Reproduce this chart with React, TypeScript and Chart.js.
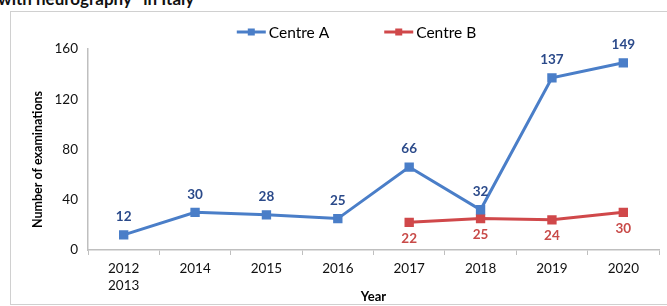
import React, { useEffect, useRef } from "react";
import { Chart, registerables } from "chart.js";

Chart.register(...registerables);

const categories: (string | string[])[] = [["2012", "2013"], "2014", "2015", "2016", "2017", "2018", "2019", "2020"];
const centreA: (number | null)[] = [12, 30, 28, 25, 66, 32, 137, 149];
const centreB: (number | null)[] = [null, null, null, null, 22, 25, 24, 30];
const seriesNames = ["Centre A", "Centre B"];
const yMin = 0;
const yMax = 160;
const yStep = 40;
const xTitle = "Year";
const yTitle = "Number of examinations";
const chartTitle = "with neurography* in Italy";

const BLUE = "#4A7EC8";
const RED = "#D0484A";
const BLUE_LABEL = "#2B4A8A";
const RED_LABEL = "#C84A48";
const AXIS = "#BFBFBF";
const FONT = "Lato, 'Open Sans', sans-serif";

const W = 667;
const H = 306;

const dataLabelPlugin = {
  id: "dataLabels",
  afterDatasetsDraw(chart: any) {
    const ctx = chart.ctx;
    ctx.save();
    ctx.font = `bold 13.5px ${FONT}`;
    ctx.textAlign = "center";
    ctx.textBaseline = "middle";
    chart.data.datasets.forEach((ds: any, i: number) => {
      const meta = chart.getDatasetMeta(i);
      meta.data.forEach((pt: any, j: number) => {
        const v = ds.data[j];
        if (v === null || v === undefined) return;
        ctx.fillStyle = ds.labelColor;
        const dy = ds.labelPos === "above" ? -18 : 16;
        ctx.fillText(String(v), pt.x, pt.y + dy);
      });
    });
    ctx.restore();
  },
};

const yTitlePlugin = {
  id: "yTitle",
  afterDraw(chart: any) {
    const ctx = chart.ctx;
    const a = chart.chartArea;
    ctx.save();
    ctx.font = `bold 12.5px ${FONT}`;
    ctx.fillStyle = "#000";
    ctx.textAlign = "center";
    ctx.textBaseline = "middle";
    ctx.translate(38, (a.top + a.bottom) / 2 + 10);
    ctx.rotate(-Math.PI / 2);
    ctx.fillText(yTitle, 0, 0);
    ctx.restore();
  },
};

const legendPlugin = {
  id: "customLegend",
  afterDraw(chart: any) {
    const ctx = chart.ctx;
    ctx.save();
    ctx.font = `15.5px ${FONT}`;
    ctx.textBaseline = "middle";
    ctx.textAlign = "left";
    const y = 32;
    const lineLen = 29;
    const gap = 3;
    const itemGap = 55;
    const widths = chart.data.datasets.map((ds: any) => lineLen + gap + ctx.measureText(ds.label).width);
    const total = widths.reduce((a: number, b: number) => a + b, 0) + itemGap * (widths.length - 1);
    let x = (chart.chartArea.left + chart.chartArea.right) / 2 - 17 - total / 2;
    chart.data.datasets.forEach((ds: any, i: number) => {
      ctx.strokeStyle = ds.borderColor;
      ctx.lineWidth = 3;
      ctx.beginPath();
      ctx.moveTo(x, y);
      ctx.lineTo(x + lineLen, y);
      ctx.stroke();
      ctx.fillStyle = ds.backgroundColor;
      ctx.fillRect(x + lineLen / 2 - 3.5, y - 3.5, 7, 7);
      ctx.fillStyle = "#000";
      ctx.fillText(ds.label, x + lineLen + gap, y + 1);
      x += widths[i] + itemGap;
    });
    ctx.restore();
  },
};

export default function App() {
  const ref = useRef<HTMLCanvasElement | null>(null);

  useEffect(() => {
    if (!ref.current) return;
    const chart = new Chart(ref.current, {
      type: "line",
      data: {
        labels: categories,
        datasets: [
          {
            label: seriesNames[0],
            data: centreA,
            borderColor: BLUE,
            backgroundColor: BLUE,
            borderWidth: 3,
            pointStyle: "rect",
            pointRadius: 4.5,
            pointBackgroundColor: BLUE,
            pointBorderColor: BLUE,
            tension: 0,
            labelColor: BLUE_LABEL,
            labelPos: "above",
          } as any,
          {
            label: seriesNames[1],
            data: centreB,
            borderColor: RED,
            backgroundColor: RED,
            borderWidth: 3,
            pointStyle: "rect",
            pointRadius: 4.5,
            pointBackgroundColor: RED,
            pointBorderColor: RED,
            tension: 0,
            labelColor: RED_LABEL,
            labelPos: "below",
          } as any,
        ],
      },
      options: {
        responsive: false,
        animation: false,
        devicePixelRatio: 1,
        layout: { padding: { left: 0, right: 8, top: 49, bottom: 0 } },
        plugins: {
          legend: { display: false },
          tooltip: { enabled: false },
          title: { display: false },
        },
        scales: {
          x: {
            type: "category",
            offset: true,
            grid: {
              display: true,
              drawOnChartArea: false,
              drawTicks: true,
              tickLength: 5,
              offset: true,
              color: AXIS,
            },
            border: { display: true, color: AXIS, width: 1.5 },
            ticks: {
              color: "#111",
              font: { family: FONT, size: 13.5, lineHeight: 1.25 },
              padding: 5,
              maxRotation: 0,
              autoSkip: false,
            },
            title: {
              display: true,
              text: xTitle,
              color: "#000",
              font: { family: FONT, size: 13, weight: "bold" },
              padding: { top: 0, bottom: 1 },
            },
            afterFit(scale: any) {
              scale.height = 56;
            },
          },
          y: {
            min: yMin,
            max: yMax,
            ticks: {
              stepSize: yStep,
              color: "#111",
              font: { family: FONT, size: 13.5 },
              padding: 10,
            },
            grid: { display: false, drawTicks: false },
            border: { display: true, color: AXIS, width: 1.5 },
            title: { display: false },
            afterFit(scale: any) {
              scale.width = 88;
            },
          },
        },
      },
      plugins: [dataLabelPlugin, legendPlugin, yTitlePlugin],
    });
    return () => chart.destroy();
  }, []);

  return (
    <div style={{ position: "absolute", left: 0, top: 0, width: W, height: H, overflow: "hidden", background: "#fff" }}>
      <div
        style={{
          position: "absolute",
          left: -2,
          top: -12,
          fontFamily: FONT,
          fontWeight: "bold",
          fontSize: 17,
          color: "#111",
          whiteSpace: "nowrap",
        }}
      >
        {chartTitle}
      </div>
      <div
        style={{
          position: "absolute",
          left: 10,
          top: 11,
          width: W,
          height: 292,
          borderLeft: "1px solid #D0D0D0",
          borderTop: "1px solid #D0D0D0",
          borderBottom: "1px solid #D0D0D0",
        }}
      />
      <canvas ref={ref} width={W} height={H} style={{ position: "absolute", left: 0, top: 0, width: W, height: H }} />
    </div>
  );
}
